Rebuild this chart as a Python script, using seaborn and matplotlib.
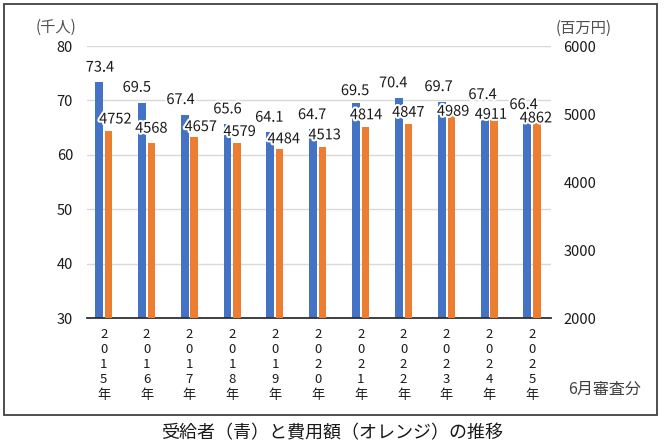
import numpy as np
import pandas as pd
import matplotlib
matplotlib.use("Agg")
import matplotlib.pyplot as plt
import matplotlib.patheffects as pe
from matplotlib.patches import Rectangle
import seaborn as sns

# ---- data ----
years = ["2015", "2016", "2017", "2018", "2019", "2020", "2021", "2022", "2023", "2024", "2025"]
recipients = [73.4, 69.5, 67.4, 65.6, 64.1, 64.7, 69.5, 70.4, 69.7, 67.4, 66.4]   # 千人
costs = [4752, 4568, 4657, 4579, 4484, 4513, 4814, 4847, 4989, 4911, 4862]          # 百万円
left_ticks = [30, 40, 50, 60, 70, 80]
right_ticks = [2000, 3000, 4000, 5000, 6000]
left_unit = "(千人)"
right_unit = "(百万円)"
note = "6月審査分"
caption = "受給者（青）と費用額（オレンジ）の推移"

# ---- label nudges (points), styling only ----
blue_dx = [0.7, -3.6, -2.9, 0, -0.7, -0.7, -0.7, -4.0, -2.2, -1.4, -2.7]
blue_dy = [7.4, 8.2, 7.6, 7.9, 7.8, 7.3, 5.8, 7.9, 7.9, 11.2, 7.9]
orange_dx = [5.0, 0, 4.8, 1.9, 2.9, 1.4, 0.4, 0, 1.4, -2.2, -0.7]
orange_dy = [5.3, 7.7, 4.5, 4.8, 4.2, 5.6, 5.3, 5.5, -0.7, 0.9, 0.7]

sns.set_theme(style="white")
plt.rcParams['font.family'] = ['Noto Sans CJK JP', 'DejaVu Sans']

BLUE = "#4472C4"
ORANGE = "#ED7D31"
TXT = "#1a1a1a"

W, H = 666, 444
fig = plt.figure(figsize=(W / 100, H / 100), dpi=100)
fig.patch.set_facecolor("white")
ax1 = fig.add_axes([87 / W, 1 - 318 / H, 464 / W, 272 / H])
ax2 = ax1.twinx()

idx = np.arange(len(years))
df = pd.DataFrame({
    "pos_b": idx - 0.11,
    "pos_o": idx + 0.11,
    "recipients": recipients,
    "costs": costs,
})

sns.barplot(data=df, x="pos_b", y="recipients", native_scale=True, width=0.185,
            color=BLUE, saturation=1, linewidth=0, errorbar=None, ax=ax1)
sns.barplot(data=df, x="pos_o", y="costs", native_scale=True, width=0.17,
            color=ORANGE, saturation=1, linewidth=0, errorbar=None, ax=ax2)

ax1.set_ylim(left_ticks[0], left_ticks[-1])
ax2.set_ylim(right_ticks[0], right_ticks[-1])
ax1.set_yticks(left_ticks)
ax2.set_yticks(right_ticks)
ax1.set_xlim(-0.39, 10.44)
ax1.set_xticks(idx)
ax1.set_xticklabels(["\n".join(y + "年") for y in years], linespacing=1.22)

for a in (ax1, ax2):
    a.set_xlabel("")
    a.set_ylabel("")
    for s in a.spines.values():
        s.set_visible(False)
ax1.spines["bottom"].set_visible(True)
ax1.spines["bottom"].set_color("#303030")
ax1.spines["bottom"].set_linewidth(1.3)
ax1.spines["bottom"].set_zorder(10)

ax1.yaxis.grid(True, color="#D9D9D9", linewidth=1.0)
ax1.set_axisbelow(True)
ax1.tick_params(axis="y", length=0, pad=10, labelsize=10.5, labelcolor=TXT)
ax2.tick_params(axis="y", length=0, pad=9, labelsize=10.5, labelcolor=TXT)
ax1.tick_params(axis="x", length=0, pad=7, labelsize=9.5, labelcolor=TXT)
ax2.tick_params(axis="x", length=0, labelbottom=False)

stroke = [pe.withStroke(linewidth=3, foreground="white")]
for i, v in enumerate(recipients):
    ax2.annotate(f"{v:.1f}", xy=(i - 0.11, v), xycoords=ax1.transData,
                 xytext=(blue_dx[i], blue_dy[i]), textcoords="offset points",
                 ha="center", va="baseline", fontsize=10.5, color=TXT,
                 path_effects=stroke, zorder=6)
for i, v in enumerate(costs):
    ax2.annotate(f"{v}", xy=(i + 0.11, v),
                 xytext=(orange_dx[i], orange_dy[i]), textcoords="offset points",
                 ha="center", va="baseline", fontsize=10.5, color=TXT,
                 path_effects=stroke, zorder=7)

fig.text(56 / W, 1 - 27 / H, left_unit, ha="center", va="center",
         fontsize=11, color="#505050")
fig.text(584 / W, 1 - 28 / H, right_unit, ha="center", va="center",
         fontsize=11, color="#505050")
fig.text(605 / W, 1 - 389 / H, note, ha="center", va="center",
         fontsize=11.5, color="#404040")
fig.text(332 / W, 1 - 433 / H, caption, ha="center", va="center",
         fontsize=13, color=TXT)

fig.patches.append(Rectangle((4 / W, 1 - 415 / H), 653 / W, 411 / H,
                             transform=fig.transFigure, fill=False,
                             edgecolor="#404040", linewidth=1.3))

fig.savefig("out.png", dpi=100)
